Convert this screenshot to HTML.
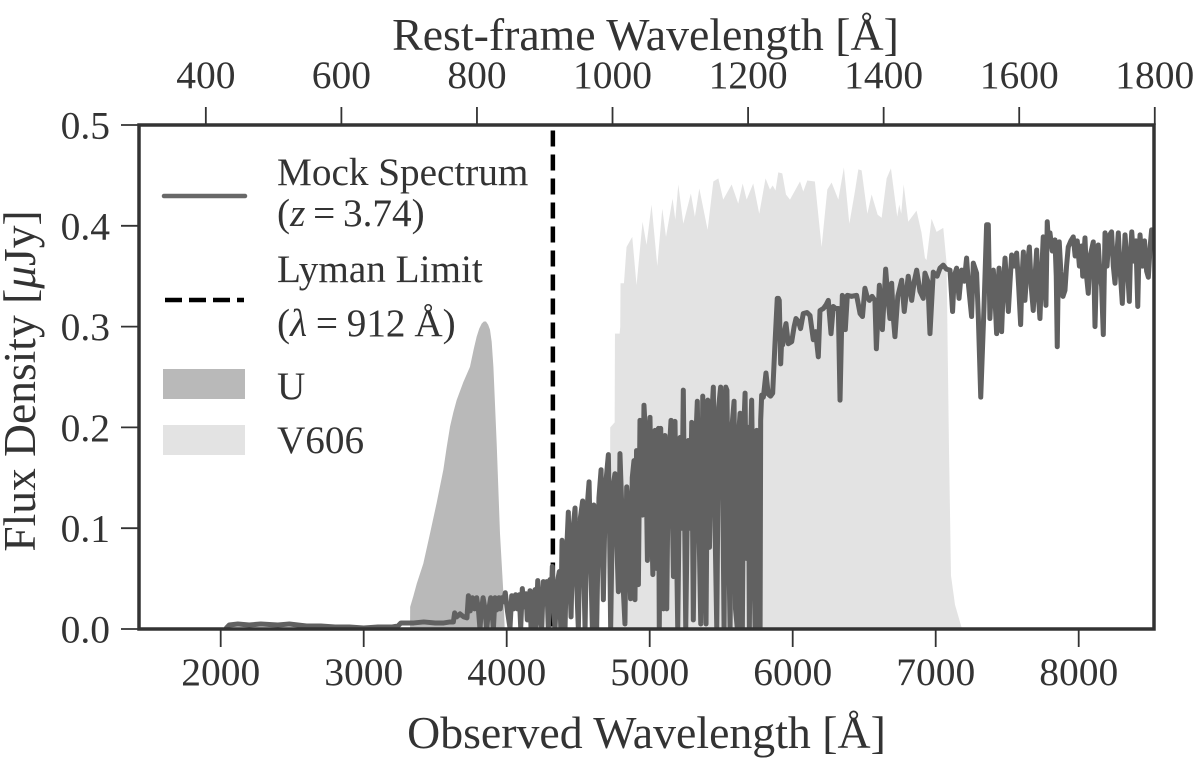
<!DOCTYPE html>
<html>
<head>
<meta charset="utf-8">
<title>Mock Spectrum</title>
<style>
html,body{margin:0;padding:0;background:#fff;}
svg{display:block;}
text{font-family:"Liberation Serif","DejaVu Serif",serif;fill:#333;}
</style>
</head>
<body>
<svg id="chart" xmlns="http://www.w3.org/2000/svg" width="1200" height="767" viewBox="0 0 1200 767">
  <defs><clipPath id="plot-clip"><rect x="139" y="125" width="1015" height="504"/></clipPath></defs>
  <g id="filters" clip-path="url(#plot-clip)"></g>
  <g id="limit" clip-path="url(#plot-clip)"></g>
  <g id="spectrum" clip-path="url(#plot-clip)"></g>
  <g id="ticks"></g>
  <rect x="139" y="125" width="1015" height="504" fill="none" stroke="#333" stroke-width="3.5"/>

  <text x="645.5" y="50" font-size="45.8" text-anchor="middle">Rest-frame Wavelength [Å]</text>
  <text x="646.5" y="748" font-size="45.8" text-anchor="middle">Observed Wavelength [Å]</text>
  <text transform="translate(35,381) rotate(-90)" font-size="45.5" text-anchor="middle">Flux Density [<tspan font-style="italic">μ</tspan>Jy]</text>

  <g>
    <g>
      <line x1="164" y1="196" x2="245" y2="196" stroke="#686868" stroke-width="4.5" stroke-linecap="round"/>
      <text x="277" y="185" font-size="39.2">Mock Spectrum</text>
      <text x="277" y="226" font-size="39.2" word-spacing="-2">(<tspan font-style="italic">z</tspan> = 3.74)</text>
    </g>
    <g>
      <line x1="165" y1="300" x2="244" y2="300" stroke="#000" stroke-width="4.5" stroke-dasharray="17 7"/>
      <text x="277" y="282" font-size="39.2">Lyman Limit</text>
      <text x="277" y="336" font-size="39.2" word-spacing="-1">(<tspan font-style="italic">λ</tspan> = 912 Å)</text>
    </g>
    <g>
      <rect x="163" y="369" width="82" height="30" fill="#b9b9b9"/>
      <text x="277" y="399" font-size="39.2">U</text>
    </g>
    <g>
      <rect x="163" y="425" width="82" height="30" fill="#e3e3e3"/>
      <text x="277" y="453" font-size="39.2">V606</text>
    </g>
  </g>
</svg>
<script>
const xTicks = [2000,3000,4000,5000,6000,7000,8000];
const topTicks = [400,600,800,1000,1200,1400,1600,1800];
const yTicks = [0.0,0.1,0.2,0.3,0.4,0.5];
const redshift = 3.74;
const lymanLimitRest = 912;

const uWave = [3324,3325,3348,3371,3417,3464,3510,3557,3580,3604,3627,3650,3697,3743,3770,3790,3808,3825,3840,3855,3870,3883,3895,3907,3930,3953,3977,3986];
const uThroughput = [0,0.022,0.033,0.045,0.065,0.095,0.125,0.158,0.18,0.201,0.215,0.227,0.245,0.26,0.278,0.29,0.298,0.303,0.305,0.305,0.302,0.297,0.285,0.26,0.184,0.095,0.035,0];

const vWave = [4720,4724,4755,4757,4790,4794,4796,4820,4838,4878,4908,4950,4978,5013,5053,5088,5114,5160,5179,5200,5235,5288,5316,5347,5405,5445,5480,5514,5573,5619,5650,5678,5724,5766,5810,5841,5860,5880,5899,5927,5953,5981,6051,6074,6102,6155,6202,6242,6272,6319,6358,6396,6435,6459,6482,6522,6552,6594,6622,6657,6687,6731,6745,6759,6776,6808,6866,6901,6925,6936,6971,7006,7053,7076,7093,7107,7135,7184];
const vThroughput = [0,0.2,0.205,0.293,0.293,0.3,0.343,0.343,0.379,0.389,0.341,0.404,0.381,0.421,0.36,0.417,0.389,0.427,0.406,0.441,0.402,0.432,0.409,0.437,0.396,0.444,0.447,0.426,0.441,0.422,0.442,0.426,0.442,0.412,0.447,0.436,0.44,0.435,0.453,0.452,0.431,0.426,0.444,0.434,0.445,0.444,0.379,0.436,0.443,0.426,0.458,0.402,0.434,0.456,0.455,0.412,0.431,0.411,0.408,0.447,0.457,0.409,0.421,0.412,0.441,0.404,0.415,0.393,0.368,0.366,0.407,0.394,0.398,0.363,0.178,0.053,0.024,0];

const specBlue = [[2040,.001],[2060,.004],[2120,.005],[2200,.004],[2280,.005],[2400,.004],[2480,.005],[2600,.003],[2700,.003],[2800,.002],[2900,.002],[3000,.001],[3100,.002],[3200,.002],[3240,.003],[3260,.006],[3300,.006],[3350,.006],[3420,.007],[3500,.006],[3560,.006],[3604,.007],[3627,.007],[3636,.016],[3650,.012],[3674,.015],[3700,.012],[3722,.011],[3732,.033],[3745,.018],[3760,.031],[3775,.02],[3790,.031],[3803,.018],[3813,0],[3822,.017],[3835,.031],[3848,.02],[3860,0],[3872,.017],[3888,.031],[3897,.018],[3907,0],[3918,.031],[3930,.019],[3945,.031],[3955,.02],[3965,.031],[3977,.027],[3990,.036],[4005,.018],[4023,.001],[4035,.033],[4048,.02],[4062,.034],[4075,.02],[4088,.034],[4098,.001],[4109,.04],[4122,.022],[4135,.035],[4144,.009],[4163,.038],[4170,0],[4185,.03],[4198,.039],[4205,0],[4217,.048],[4228,.02],[4245,0],[4256,.047],[4268,.025],[4280,.047],[4291,0],[4303,.049],[4312,.03],[4319,.062],[4328,.02],[4338,0],[4352,.045],[4368,.057],[4378,0]];

const specForest = [[4387,.088],[4397,.03],[4408,0],[4420,.08],[4431,.116],[4441,.05],[4450,.012],[4464,.1],[4478,.12],[4488,.05],[4501,0],[4515,.11],[4531,.127],[4540,.05],[4548,0],[4562,.12],[4576,.146],[4587,.07],[4599,0],[4609,.123],[4618,.12],[4629,0],[4645,.13],[4660,.158],[4668,.09],[4676,.029],[4690,.14],[4711,.173],[4719,.1],[4727,0],[4742,.14],[4757,.154],[4769,.09],[4781,.037],[4792,.174],[4805,.12],[4815,.04],[4827,.005],[4839,.141],[4851,.12],[4866,.03],[4878,.15],[4890,.167],[4897,.029],[4908,.177],[4915,.12],[4921,.044],[4932,.207],[4943,.17],[4950,.113],[4960,.222],[4972,.19],[4984,.068],[4995,.19],[5002,.21],[5012,.12],[5022,.054],[5037,.197],[5049,.06],[5061,.199],[5067,0],[5077,.199],[5086,.09],[5096,.02],[5107,.192],[5119,.02],[5130,.16],[5149,.207],[5158,.12],[5166,.052],[5177,.206],[5186,.1],[5196,0],[5212,.19],[5224,.1],[5235,.237],[5245,.1],[5252,0],[5270,.187],[5281,.1],[5294,.205],[5305,.009],[5320,.18],[5333,.226],[5345,.1],[5357,.005],[5371,.231],[5383,.1],[5394,.005],[5406,.227],[5418,.081],[5430,.2],[5445,.24],[5457,.1],[5469,0],[5482,.22],[5496,.24],[5507,.2],[5520,0],[5532,.24],[5540,.237],[5551,.1],[5562,0],[5575,.2],[5590,.226],[5600,.02],[5613,0],[5625,.2],[5632,.214],[5640,.02],[5648,0],[5658,.2],[5667,.234],[5678,.07],[5690,.2],[5697,0],[5708,.2],[5713,.227],[5725,.1],[5737,0],[5748,.197],[5760,0],[5772,0],[5776,.207]];

const specRed = [[5783,.232],[5795,.23],[5813,.254],[5829,.233],[5845,.231],[5860,.234],[5876,.283],[5892,.328],[5900,.328],[5906,.326],[5916,.263],[5924,.29],[5930,.282],[5942,.295],[5953,.303],[5969,.283],[5993,.285],[6010,.3],[6023,.308],[6040,.305],[6055,.298],[6074,.313],[6100,.314],[6121,.311],[6144,.287],[6160,.295],[6179,.27],[6191,.316],[6215,.318],[6235,.322],[6249,.326],[6268,.293],[6284,.32],[6300,.318],[6319,.318],[6331,.227],[6347,.331],[6360,.328],[6368,.297],[6382,.331],[6410,.33],[6447,.331],[6471,.313],[6488,.31],[6505,.338],[6520,.33],[6536,.326],[6555,.33],[6575,.326],[6585,.278],[6606,.341],[6627,.297],[6640,.33],[6650,.357],[6665,.33],[6680,.308],[6692,.343],[6703,.31],[6715,.29],[6735,.33],[6762,.346],[6780,.315],[6808,.35],[6832,.326],[6850,.345],[6867,.356],[6890,.335],[6913,.328],[6925,.353],[6945,.345],[6960,.293],[6983,.354],[7010,.35],[7030,.358],[7053,.361],[7075,.357],[7100,.356],[7118,.315],[7130,.35],[7146,.358],[7163,.328],[7181,.356],[7200,.345],[7216,.368],[7230,.34],[7251,.31],[7263,.363],[7286,.353],[7298,.31],[7315,.23],[7338,.32],[7356,.401],[7368,.401],[7379,.308],[7390,.34],[7403,.356],[7414,.33],[7426,.293],[7435,.34],[7443,.358],[7452,.33],[7461,.295],[7473,.34],[7485,.368],[7497,.34],[7508,.315],[7520,.345],[7531,.371],[7548,.36],[7566,.373],[7580,.34],[7594,.302],[7604,.35],[7613,.374],[7624,.326],[7640,.36],[7655,.379],[7668,.34],[7682,.316],[7695,.35],[7706,.376],[7718,.33],[7729,.308],[7740,.35],[7752,.389],[7765,.34],[7771,.321],[7780,.404],[7790,.38],[7799,.393],[7815,.375],[7834,.386],[7843,.35],[7850,.28],[7857,.35],[7864,.384],[7875,.355],[7890,.33],[7904,.336],[7915,.36],[7927,.379],[7945,.385],[7962,.389],[7975,.37],[7990,.385],[8005,.36],[8020,.38],[8028,.35],[8044,.388],[8055,.35],[8067,.333],[8080,.37],[8102,.384],[8114,.3],[8125,.36],[8137,.381],[8150,.35],[8160,.34],[8172,.292],[8184,.393],[8198,.36],[8212,.39],[8230,.394],[8242,.36],[8254,.343],[8266,.37],[8277,.393],[8290,.355],[8305,.323],[8315,.36],[8324,.391],[8340,.36],[8354,.325],[8362,.37],[8371,.394],[8385,.365],[8400,.385],[8413,.32],[8421,.37],[8429,.391],[8445,.36],[8460,.385],[8475,.355],[8487,.349],[8500,.38],[8510,.396],[8526,.385]];

const xScale = v => 220.7 + (v - 2000) * 0.143;
const yScale = v => 629 - v * 1008;
const svgNS = 'http://www.w3.org/2000/svg';

function el(tag, attrs, parent) {
  const n = document.createElementNS(svgNS, tag);
  for (const k in attrs) n.setAttribute(k, attrs[k]);
  parent.appendChild(n);
  return n;
}
function linePath(xs, ys) {
  return xs.map((w, i) => (i ? 'L' : 'M') + xScale(w).toFixed(2) + ' ' + yScale(ys[i]).toFixed(2)).join('');
}
function areaPath(xs, ys) {
  return linePath(xs, ys) + 'L' + xScale(xs[xs.length - 1]).toFixed(2) + ' ' + yScale(0) + 'L' + xScale(xs[0]).toFixed(2) + ' ' + yScale(0) + 'Z';
}

const filters = document.getElementById('filters');
const vArea = el('path', {d: areaPath(vWave, vThroughput), fill: '#e3e3e3'}, filters);


const uArea = el('path', {d: areaPath(uWave, uThroughput), fill: '#b9b9b9'}, filters);



const limitX = xScale(lymanLimitRest * (1 + redshift));
const limitLine = el('line', {x1: limitX, x2: limitX, y1: 130.5, y2: 629, stroke: '#000', 'stroke-width': 4.5, 'stroke-dasharray': '16 8'}, document.getElementById('limit'));



const specPoints = specBlue.concat(specForest, specRed);
const specLine = el('path', {d: linePath(specPoints.map(p => p[0]), specPoints.map(p => p[1])), fill: 'none', stroke: '#616161', 'stroke-width': 5, 'stroke-linejoin': 'round', 'stroke-linecap': 'round'}, document.getElementById('spectrum'));



const ticks = document.getElementById('ticks');
xTicks.forEach(t => {
  const x = xScale(t);
  const m = el('line', {x1: x, x2: x, y1: 629, y2: 647, stroke: '#333', 'stroke-width': 1.8}, ticks);
  
  
  const l = el('text', {x: x, y: 685, 'font-size': 39.5, 'text-anchor': 'middle'}, ticks);
  l.textContent = t;
  
  
});
topTicks.forEach(t => {
  const x = xScale(t * (1 + redshift));
  const m = el('line', {x1: x, x2: x, y1: 107, y2: 125, stroke: '#333', 'stroke-width': 1.8}, ticks);
  
  
  const l = el('text', {x: x, y: 88, 'font-size': 39.5, 'text-anchor': 'middle'}, ticks);
  l.textContent = t;
  
  
});
yTicks.forEach(t => {
  const y = yScale(t);
  const m = el('line', {x1: 121, x2: 139, y1: y, y2: y, stroke: '#333', 'stroke-width': 1.8}, ticks);
  
  
  const l = el('text', {x: 110, y: y + 13.5, 'font-size': 39.5, 'text-anchor': 'end'}, ticks);
  l.textContent = t.toFixed(1);
  
  
});
</script>
</body>
</html>
